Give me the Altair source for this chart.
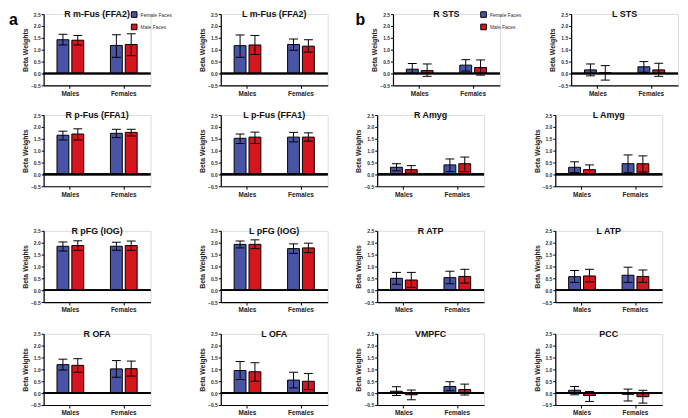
import altair as alt
import pandas as pd

REGIONS = ["R m-Fus (FFA2)", "L m-Fus (FFA2)", "R STS", "L STS",
           "R p-Fus (FFA1)", "L p-Fus (FFA1)", "R Amyg", "L Amyg",
           "R pFG (IOG)", "L pFG (IOG)", "R ATP", "L ATP",
           "R OFA", "L OFA", "VMPFC", "PCC"]
GROUPS = ["Males", "Females"]
SERIES = ["Female Faces", "Male Faces"]
COLORS = ["#4a54a6", "#d5161f"]

# order within each region: Males/Female Faces, Males/Male Faces, Females/Female Faces, Females/Male Faces
MEANS = [
    [1.42, 1.40, 1.18, 1.22], [1.17, 1.20, 1.22, 1.15], [0.18, 0.12, 0.35, 0.25], [0.15, 0.03, 0.28, 0.15],
    [1.65, 1.70, 1.73, 1.77], [1.52, 1.57, 1.57, 1.57], [0.30, 0.20, 0.40, 0.45], [0.30, 0.20, 0.45, 0.45],
    [1.85, 1.88, 1.85, 1.88], [1.93, 1.93, 1.75, 1.78], [0.50, 0.43, 0.53, 0.58], [0.57, 0.60, 0.63, 0.58],
    [1.20, 1.17, 1.02, 1.03], [0.95, 0.90, 0.55, 0.50], [0.08, -0.07, 0.28, 0.15], [0.12, -0.10, -0.05, -0.15],
]
LOWS = [
    [1.20, 1.20, 0.68, 0.75], [0.68, 0.80, 0.98, 0.90], [0.00, -0.12, 0.10, -0.07], [-0.10, -0.28, 0.05, -0.12],
    [1.45, 1.45, 1.55, 1.62], [1.30, 1.30, 1.37, 1.40], [0.15, 0.05, 0.12, 0.12], [0.08, 0.03, 0.07, 0.10],
    [1.65, 1.68, 1.68, 1.68], [1.78, 1.75, 1.55, 1.58], [0.25, 0.12, 0.27, 0.30], [0.33, 0.35, 0.33, 0.33],
    [0.97, 0.88, 0.67, 0.72], [0.57, 0.50, 0.22, 0.15], [-0.10, -0.28, 0.10, -0.08], [-0.07, -0.35, -0.33, -0.42],
]
HIGHS = [
    [1.65, 1.60, 1.63, 1.67], [1.62, 1.60, 1.45, 1.42], [0.42, 0.40, 0.58, 0.57], [0.40, 0.33, 0.50, 0.43],
    [1.82, 1.92, 1.90, 1.90], [1.70, 1.78, 1.77, 1.75], [0.45, 0.37, 0.65, 0.73], [0.53, 0.40, 0.82, 0.78],
    [2.03, 2.08, 2.02, 2.07], [2.07, 2.12, 1.95, 1.98], [0.75, 0.75, 0.80, 0.88], [0.83, 0.88, 0.97, 0.85],
    [1.43, 1.45, 1.37, 1.35], [1.33, 1.28, 0.88, 0.83], [0.27, 0.13, 0.48, 0.38], [0.28, 0.07, 0.17, 0.12],
]
Y_TICKS = [-0.5, 0.0, 0.5, 1.0, 1.5, 2.0, 2.5]
PANEL_LETTERS = {0: "a", 2: "b"}

FONT = "Liberation Sans"
W, H = 108, 72

Y_SCALE = alt.Scale(domain=[-0.5, 2.5], nice=False, zero=False)
Y_AXIS = alt.Axis(values=Y_TICKS, format=".1f", grid=False, labelFontSize=5,
                  labelFontWeight="bold", labelColor="#333", domainColor="black",
                  domainWidth=1.2, tickColor="black", tickSize=2.5, labelPadding=1,
                  labelOverlap=False, labelFlush=False,
                  titleFontSize=7, titleFontWeight="bold", titleColor="#222",
                  titlePadding=2, labelFont=FONT, titleFont=FONT)
X_AXIS = alt.Axis(labelAngle=0, labelFontWeight="bold", labelFontSize=6.5,
                  labelColor="#222", domainColor="black", domainWidth=1.2,
                  tickColor="black", tickSize=3, labelPadding=2, labelFont=FONT)


def panel(idx):
    rows = []
    k = 0
    for g in GROUPS:
        for s in SERIES:
            rows.append({"group": g, "series": s, "mean": MEANS[idx][k],
                         "lo": LOWS[idx][k], "hi": HIGHS[idx][k]})
            k += 1
    df = pd.DataFrame(rows)
    base = alt.Chart(df)
    x = alt.X("group:N", sort=GROUPS, title=None,
              scale=alt.Scale(paddingInner=0.4, paddingOuter=0.2), axis=X_AXIS)
    xo = alt.XOffset("series:N", sort=SERIES,
                     scale=alt.Scale(paddingInner=0.2, paddingOuter=0.18))

    def yq(field):
        return alt.Y(field, title="Beta Weights", scale=Y_SCALE, axis=Y_AXIS)

    if idx in PANEL_LETTERS:
        legend = alt.Legend(orient="none", legendX=88, legendY=-3, title=None,
                            symbolType="square", symbolSize=32, symbolStrokeColor="black",
                            symbolStrokeWidth=1, labelFontSize=5, labelColor="#333",
                            rowPadding=1.5, labelFont=FONT, symbolOpacity=1, labelOffset=3)
    else:
        legend = None
    color = alt.Color("series:N", sort=SERIES,
                      scale=alt.Scale(domain=SERIES, range=COLORS), legend=legend)
    bars = base.mark_bar(stroke="black", strokeWidth=1, opacity=1).encode(
        x=x, xOffset=xo, y=yq("mean:Q"), color=color)
    zero = base.mark_rule(color="black", strokeWidth=1.6).encode(
        y=alt.YDatum(0, type="quantitative", title="Beta Weights", scale=Y_SCALE, axis=Y_AXIS))
    err = base.mark_rule(color="black", strokeWidth=1).encode(
        x=x, xOffset=xo, y=yq("lo:Q"), y2="hi:Q")
    cap_hi = base.mark_tick(color="black", thickness=1, size=9, opacity=1).encode(
        x=x, xOffset=xo, y=yq("hi:Q"))
    cap_lo = base.mark_tick(color="black", thickness=1, size=9, opacity=1).encode(
        x=x, xOffset=xo, y=yq("lo:Q"))
    title = alt.Chart(pd.DataFrame({"t": [REGIONS[idx]]})).mark_text(
        fontSize=9, fontWeight="bold", font=FONT, align="center", baseline="middle",
        color="#111").encode(text="t:N", x=alt.value(W / 2), y=alt.value(0))
    layers = [bars, zero, err, cap_hi, cap_lo, title]
    if idx in PANEL_LETTERS:
        lab = alt.Chart(pd.DataFrame({"t": [PANEL_LETTERS[idx]]})).mark_text(
            fontSize=16, fontWeight="bold", font=FONT, align="left", baseline="middle",
            color="black").encode(text="t:N", x=alt.value(-35 if idx == 0 else -38), y=alt.value(6))
        layers.append(lab)
    return alt.layer(*layers).properties(width=W, height=H)


def row(r):
    p = [panel(r * 4 + c) for c in range(4)]
    left = alt.hconcat(p[0], p[1], spacing=71, bounds="flush").resolve_scale(color="independent")
    right = alt.hconcat(p[2], p[3], spacing=72, bounds="flush").resolve_scale(color="independent")
    return alt.hconcat(left, right, spacing=25).resolve_scale(color="independent")


top = alt.vconcat(row(0), row(1), spacing=13).resolve_scale(color="independent")
bottom = alt.vconcat(row(2), row(3), spacing=15).resolve_scale(color="independent")
chart = (alt.vconcat(top, bottom, spacing=28)
         .resolve_scale(color="independent")
         .configure_view(stroke=None)
         .configure_axis(labelOverlap=False)
         .configure(padding={"top": -1, "left": 0, "right": 0, "bottom": 0}))

chart.save("out.html", embed_options={"renderer": "svg", "actions": False})
